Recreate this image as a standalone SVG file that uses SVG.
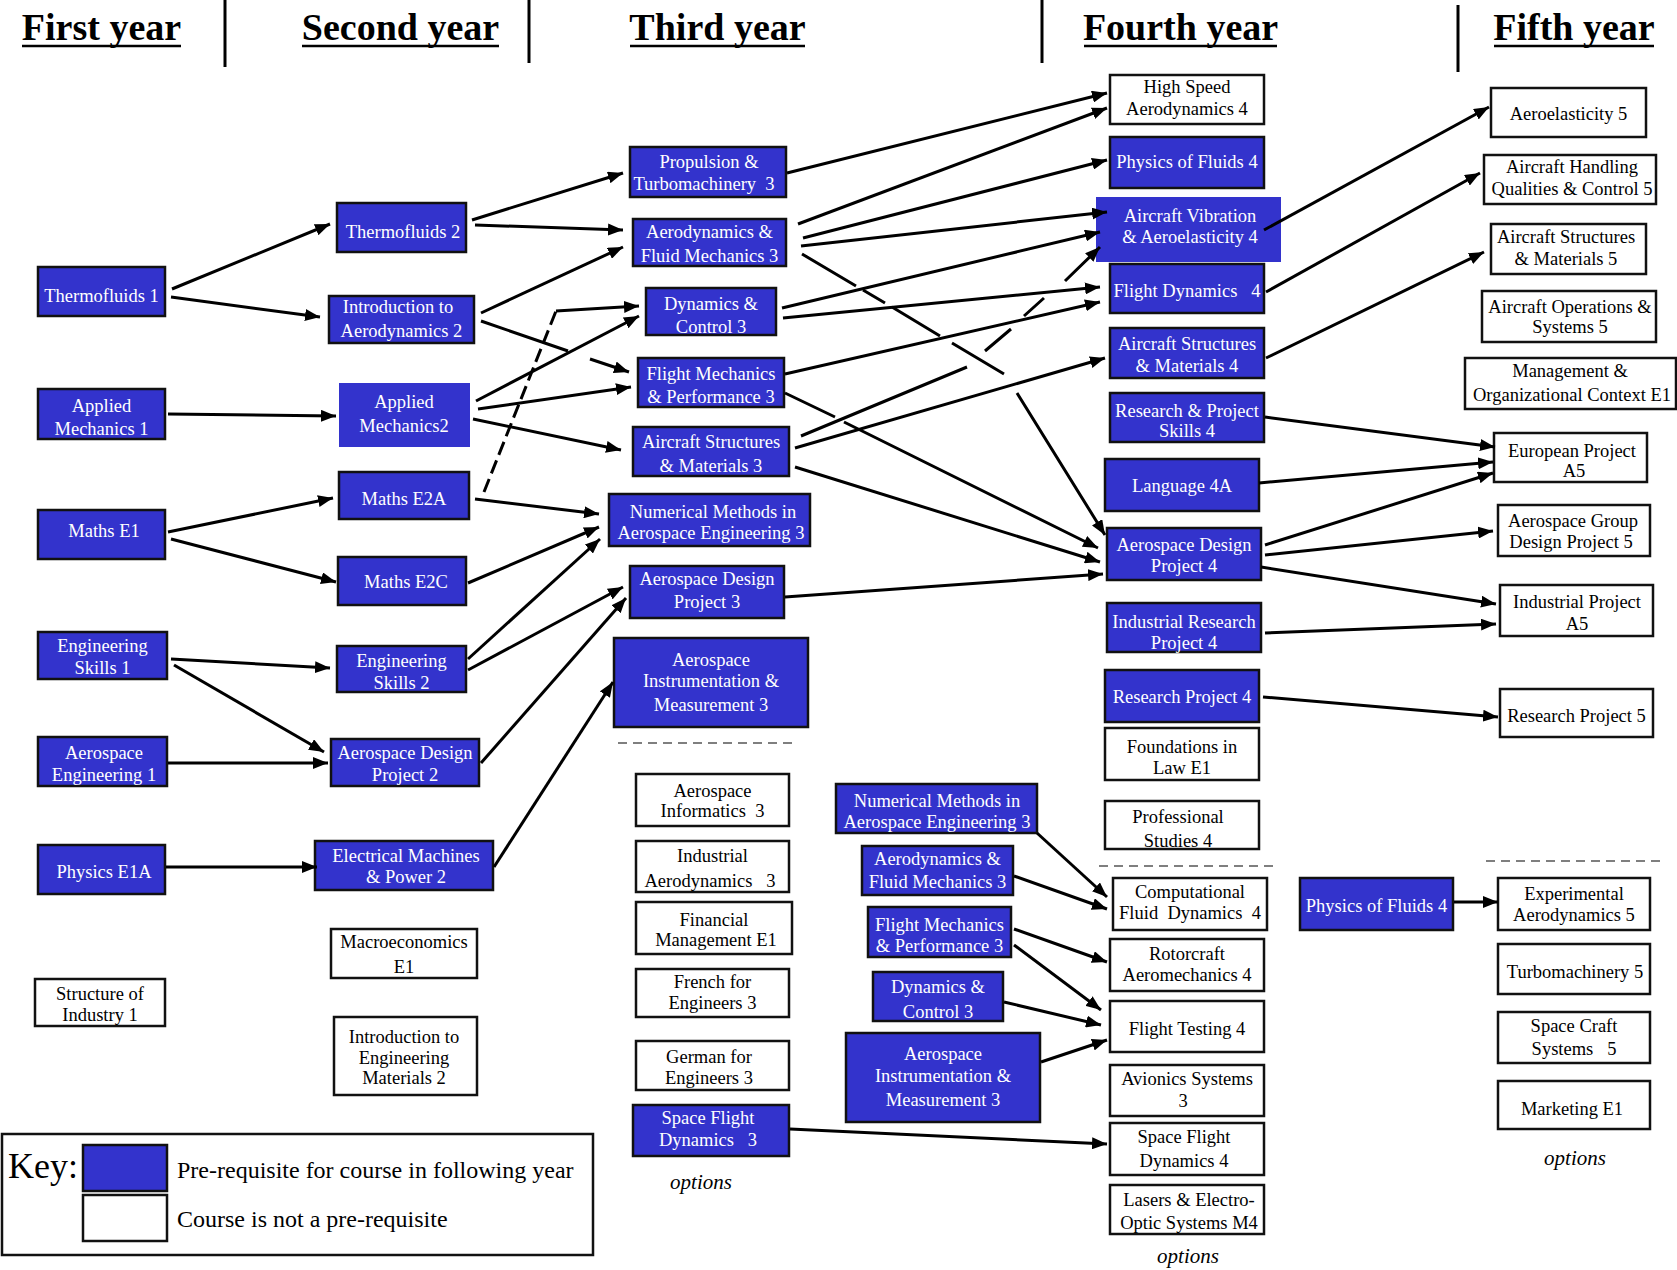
<svg xmlns="http://www.w3.org/2000/svg" width="1677" height="1270" viewBox="0 0 1677 1270">
<style>
text{font-family:"Liberation Serif","Times New Roman",serif;font-size:18.5px;text-anchor:middle;fill:#000}
.b rect{fill:#3333cc;stroke:#111;stroke-width:2.5}
.n rect{fill:#3333cc;stroke:none}
.w rect{fill:#fff;stroke:#111;stroke-width:2.5}
.b text,.n text{fill:#fff}
.hd{font-size:38px;font-weight:bold}
.ul{stroke:#000;stroke-width:2.5}
.dv{stroke:#000;stroke-width:3}
.sep{stroke:#555;stroke-width:1.5;stroke-dasharray:9 6;fill:none}
.opt{font-style:italic;font-size:21px}
#conn path{fill:none;stroke:#000;stroke-width:3;marker-end:url(#ah)}
#conn path.nd{marker-end:none;stroke-dasharray:14 6}
</style>
<defs>
<marker id="ah" markerWidth="15" markerHeight="12" refX="15" refY="6" orient="auto" markerUnits="userSpaceOnUse"><path d="M0,0 L15,6 L0,12 z" fill="#000"/></marker>
</defs>
<rect width="1677" height="1270" fill="#fff"/>

<g id="headers">
<text class="hd" x="101.5" y="40">First year</text><line class="ul" x1="22" y1="46" x2="181" y2="46"/>
<text class="hd" x="400.5" y="40">Second year</text><line class="ul" x1="302" y1="46" x2="499" y2="46"/>
<text class="hd" x="717.5" y="40">Third year</text><line class="ul" x1="630" y1="46" x2="805" y2="46"/>
<text class="hd" x="1180.5" y="40">Fourth year</text><line class="ul" x1="1084" y1="46" x2="1277" y2="46"/>
<text class="hd" x="1574" y="40">Fifth year</text><line class="ul" x1="1494" y1="46" x2="1654" y2="46"/>
<line class="dv" x1="225" y1="0" x2="225" y2="67"/>
<line class="dv" x1="529" y1="0" x2="529" y2="63"/>
<line class="dv" x1="1042" y1="0" x2="1042" y2="63"/>
<line class="dv" x1="1458" y1="5" x2="1458" y2="72"/>
<line class="sep" x1="618" y1="743" x2="797" y2="743"/>
<line class="sep" x1="1099" y1="866" x2="1276" y2="866"/>
<line class="sep" x1="1486" y1="861" x2="1662" y2="861"/>
<text class="opt" x="701" y="1189">options</text>
<text class="opt" x="1188" y="1263">options</text>
<text class="opt" x="1575" y="1165">options</text>
</g>

<g id="tf1" class="b"><rect x="38" y="267" width="127" height="49"/><text x="101.5" y="302">Thermofluids 1</text></g>
<g id="am1" class="b"><rect x="38" y="389" width="127" height="50"/><text x="101.5" y="412">Applied</text><text x="101.5" y="435">Mechanics 1</text></g>
<g id="me1" class="b"><rect x="38" y="510" width="127" height="49"/><text x="104" y="537">Maths E1</text></g>
<g id="es1" class="b"><rect x="38" y="632" width="129" height="47"/><text x="102.5" y="652">Engineering</text><text x="102.5" y="674">Skills 1</text></g>
<g id="ae1" class="b"><rect x="38" y="737" width="129" height="49"/><text x="104" y="759">Aerospace</text><text x="104" y="781">Engineering 1</text></g>
<g id="pe1a" class="b"><rect x="38" y="845" width="127" height="49"/><text x="104" y="878">Physics E1A</text></g>
<g id="soi" class="w"><rect x="35" y="979" width="130" height="47"/><text x="100" y="1000">Structure of</text><text x="100" y="1021">Industry 1</text></g>

<g id="tf2" class="b"><rect x="337" y="203" width="129" height="49"/><text x="403" y="238">Thermofluids 2</text></g>
<g id="ia2" class="b"><rect x="329" y="296" width="145" height="47"/><text x="398" y="313">Introduction to</text><text x="401.5" y="337">Aerodynamics 2</text></g>
<g id="am2" class="n"><rect x="339" y="383" width="131" height="64"/><text x="404" y="408">Applied</text><text x="404" y="432">Mechanics2</text></g>
<g id="e2a" class="b"><rect x="339" y="472" width="130" height="47"/><text x="404" y="505">Maths E2A</text></g>
<g id="e2c" class="b"><rect x="338" y="557" width="128" height="48"/><text x="406" y="588">Maths E2C</text></g>
<g id="es2" class="b"><rect x="337" y="646" width="129" height="46"/><text x="401.5" y="667">Engineering</text><text x="401.5" y="689">Skills 2</text></g>
<g id="adp2" class="b"><rect x="331" y="739" width="148" height="47"/><text x="405" y="759">Aerospace Design</text><text x="405" y="781">Project 2</text></g>
<g id="em2" class="b"><rect x="315" y="841" width="178" height="49"/><text x="406" y="862">Electrical Machines</text><text x="406" y="883">&amp; Power 2</text></g>
<g id="mac" class="w"><rect x="331" y="929" width="146" height="49"/><text x="404" y="948">Macroeconomics</text><text x="404" y="973">E1</text></g>
<g id="iem2" class="w"><rect x="334" y="1017" width="143" height="78"/><text x="404" y="1043">Introduction to</text><text x="404" y="1064">Engineering</text><text x="404" y="1084">Materials 2</text></g>

<g id="pt3" class="b"><rect x="630" y="147" width="156" height="50"/><text x="709" y="168">Propulsion &amp;</text><text x="704" y="190">Turbomachinery&#160; 3</text></g>
<g id="afm3" class="b"><rect x="633" y="219" width="153" height="47"/><text x="709.5" y="238">Aerodynamics &amp;</text><text x="709.5" y="262">Fluid Mechanics 3</text></g>
<g id="dc3" class="b"><rect x="646" y="288" width="130" height="47"/><text x="711" y="310">Dynamics &amp;</text><text x="711" y="333">Control 3</text></g>
<g id="fmp3" class="b"><rect x="638" y="358" width="146" height="49"/><text x="711" y="380">Flight Mechanics</text><text x="711" y="403">&amp; Performance 3</text></g>
<g id="asm3" class="b"><rect x="633" y="427" width="156" height="49"/><text x="711" y="448">Aircraft Structures</text><text x="711" y="472">&amp; Materials 3</text></g>
<g id="nm3" class="b"><rect x="609" y="494" width="201" height="52"/><text x="713" y="518">Numerical Methods in</text><text x="711" y="539">Aerospace Engineering 3</text></g>
<g id="adp3" class="b"><rect x="630" y="566" width="154" height="52"/><text x="707" y="585">Aerospace Design</text><text x="707" y="608">Project 3</text></g>
<g id="aim3" class="b"><rect x="614" y="638" width="194" height="89"/><text x="711" y="666">Aerospace</text><text x="711" y="687">Instrumentation &amp;</text><text x="711" y="711">Measurement 3</text></g>
<g id="ai3" class="w"><rect x="636" y="774" width="153" height="52"/><text x="712.5" y="797">Aerospace</text><text x="712.5" y="817">Informatics&#160; 3</text></g>
<g id="ia3" class="w"><rect x="636" y="841" width="153" height="51"/><text x="712.5" y="862">Industrial</text><text x="710" y="887">Aerodynamics&#160;&#160; 3</text></g>
<g id="fm" class="w"><rect x="636" y="902" width="156" height="52"/><text x="714" y="926">Financial</text><text x="716" y="946">Management E1</text></g>
<g id="fr3" class="w"><rect x="636" y="969" width="153" height="48"/><text x="712.5" y="988">French for</text><text x="712.5" y="1009">Engineers 3</text></g>
<g id="ge3" class="w"><rect x="636" y="1041" width="153" height="49"/><text x="709" y="1063">German for</text><text x="709" y="1084">Engineers 3</text></g>
<g id="sfd3" class="b"><rect x="633" y="1105" width="156" height="51"/><text x="708" y="1124">Space Flight</text><text x="708" y="1146">Dynamics&#160;&#160; 3</text></g>

<g id="nm3b" class="b"><rect x="836" y="784" width="201" height="49"/><text x="937" y="807">Numerical Methods in</text><text x="937" y="828">Aerospace Engineering 3</text></g>
<g id="afm3b" class="b"><rect x="862" y="846" width="151" height="49"/><text x="937.5" y="865">Aerodynamics &amp;</text><text x="937.5" y="888">Fluid Mechanics 3</text></g>
<g id="fmp3b" class="b"><rect x="868" y="907" width="143" height="50"/><text x="939.5" y="931">Flight Mechanics</text><text x="939.5" y="952">&amp; Performance 3</text></g>
<g id="dc3b" class="b"><rect x="873" y="972" width="130" height="49"/><text x="938" y="993">Dynamics &amp;</text><text x="938" y="1018">Control 3</text></g>
<g id="aim3b" class="b"><rect x="846" y="1033" width="194" height="89"/><text x="943" y="1060">Aerospace</text><text x="943" y="1082">Instrumentation &amp;</text><text x="943" y="1106">Measurement 3</text></g>

<g id="hsa4" class="w"><rect x="1110" y="75" width="154" height="49"/><text x="1187" y="93">High Speed</text><text x="1187" y="115">Aerodynamics 4</text></g>
<g id="pof4" class="b"><rect x="1110" y="137" width="154" height="51"/><text x="1187" y="168">Physics of Fluids 4</text></g>
<g id="ava4" class="n"><rect x="1096" y="197" width="185" height="65"/><text x="1190" y="222">Aircraft Vibration</text><text x="1190" y="243">&amp; Aeroelasticity 4</text></g>
<g id="fd4" class="b"><rect x="1110" y="264" width="154" height="49"/><text x="1187" y="297">Flight Dynamics&#160;&#160; 4</text></g>
<g id="asm4" class="b"><rect x="1110" y="328" width="154" height="50"/><text x="1187" y="350">Aircraft Structures</text><text x="1187" y="372">&amp; Materials 4</text></g>
<g id="rps4" class="b"><rect x="1110" y="393" width="154" height="49"/><text x="1187" y="417">Research &amp; Project</text><text x="1187" y="437">Skills 4</text></g>
<g id="lang4a" class="b"><rect x="1105" y="459" width="154" height="52"/><text x="1182" y="492">Language 4A</text></g>
<g id="adp4" class="b"><rect x="1107" y="528" width="154" height="52"/><text x="1184" y="551">Aerospace Design</text><text x="1184" y="572">Project 4</text></g>
<g id="irp4" class="b"><rect x="1107" y="603" width="154" height="49"/><text x="1184" y="628">Industrial Research</text><text x="1184" y="649">Project 4</text></g>
<g id="rp4" class="b"><rect x="1105" y="670" width="154" height="52"/><text x="1182" y="703">Research Project 4</text></g>
<g id="fil" class="w"><rect x="1105" y="728" width="154" height="52"/><text x="1182" y="753">Foundations in</text><text x="1182" y="774">Law E1</text></g>
<g id="ps4" class="w"><rect x="1105" y="801" width="154" height="48"/><text x="1178" y="823">Professional</text><text x="1178" y="847">Studies 4</text></g>
<g id="cfd4" class="w"><rect x="1113" y="878" width="154" height="52"/><text x="1190" y="898">Computational</text><text x="1190" y="919">Fluid&#160; Dynamics&#160; 4</text></g>
<g id="ra4" class="w"><rect x="1110" y="939" width="154" height="52"/><text x="1187" y="960">Rotorcraft</text><text x="1187" y="981">Aeromechanics 4</text></g>
<g id="ft4" class="w"><rect x="1110" y="1001" width="154" height="51"/><text x="1187" y="1035">Flight Testing 4</text></g>
<g id="av3" class="w"><rect x="1110" y="1065" width="154" height="51"/><text x="1187" y="1085">Avionics Systems</text><text x="1183" y="1107">3</text></g>
<g id="sfd4" class="w"><rect x="1110" y="1123" width="154" height="52"/><text x="1184" y="1143">Space Flight</text><text x="1184" y="1167">Dynamics 4</text></g>
<g id="leo" class="w"><rect x="1110" y="1185" width="154" height="49"/><text x="1189" y="1206">Lasers &amp; Electro-</text><text x="1189" y="1229">Optic Systems M4</text></g>

<g id="ae5" class="w"><rect x="1491" y="88" width="155" height="49"/><text x="1568.5" y="120">Aeroelasticity 5</text></g>
<g id="ahq5" class="w"><rect x="1484" y="155" width="172" height="49"/><text x="1572" y="173">Aircraft Handling</text><text x="1572" y="195">Qualities &amp; Control 5</text></g>
<g id="asm5" class="w"><rect x="1491" y="224" width="155" height="50"/><text x="1566" y="243">Aircraft Structures</text><text x="1566" y="265">&amp; Materials 5</text></g>
<g id="aos5" class="w"><rect x="1482" y="291" width="174" height="51"/><text x="1570" y="313">Aircraft Operations &amp;</text><text x="1570" y="333">Systems 5</text></g>
<g id="moc" class="w"><rect x="1465" y="358" width="211" height="51"/><text x="1570" y="377">Management &amp;</text><text x="1572" y="401">Organizational Context E1</text></g>
<g id="ep5" class="w"><rect x="1494" y="433" width="153" height="49"/><text x="1572" y="457">European Project</text><text x="1574" y="477">A5</text></g>
<g id="agdp5" class="w"><rect x="1498" y="505" width="152" height="51"/><text x="1573" y="527">Aerospace Group</text><text x="1571" y="548">Design Project 5</text></g>
<g id="ipa5" class="w"><rect x="1500" y="585" width="153" height="51"/><text x="1577" y="608">Industrial Project</text><text x="1577" y="630">A5</text></g>
<g id="rp5" class="w"><rect x="1500" y="689" width="153" height="48"/><text x="1576.5" y="722">Research Project 5</text></g>
<g id="pof4b" class="b"><rect x="1300" y="878" width="153" height="52"/><text x="1376.5" y="912">Physics of Fluids 4</text></g>
<g id="ea5" class="w"><rect x="1498" y="878" width="152" height="52"/><text x="1574" y="900">Experimental</text><text x="1574" y="921">Aerodynamics 5</text></g>
<g id="tm5" class="w"><rect x="1498" y="944" width="152" height="50"/><text x="1575" y="978">Turbomachinery 5</text></g>
<g id="scs5" class="w"><rect x="1498" y="1012" width="152" height="51"/><text x="1574" y="1032">Space Craft</text><text x="1574" y="1055">Systems&#160;&#160; 5</text></g>
<g id="mk" class="w"><rect x="1498" y="1081" width="152" height="48"/><text x="1572" y="1115">Marketing E1</text></g>

<g id="key">
<rect x="2" y="1134" width="591" height="121" fill="#fff" stroke="#111" stroke-width="2.5"/>
<text x="8" y="1178" style="font-size:36px;text-anchor:start">Key:</text>
<rect x="83" y="1145" width="84" height="46" fill="#3333cc" stroke="#111" stroke-width="2.5"/>
<rect x="83" y="1195" width="84" height="46" fill="#fff" stroke="#111" stroke-width="2.5"/>
<text x="177" y="1178" style="font-size:24px;text-anchor:start">Pre-requisite for course in following year</text>
<text x="177" y="1227" style="font-size:24px;text-anchor:start">Course is not a pre-requisite</text>
</g>

<g id="conn">
<path d="M172,289 L330,224"/>
<path d="M171,297 L320,317"/>
<path d="M168,414 L336,416"/>
<path d="M168,532 L333,498"/>
<path d="M171,539 L336,582"/>
<path d="M171,659 L330,668"/>
<path d="M174,665 L324,752"/>
<path d="M168,763 L328,763"/>
<path d="M166,867 L317,867"/>
<path d="M472,220 L623,173"/>
<path d="M475,225 L623,230"/>
<path d="M481,313 L623,247"/>
<path d="M481,321 L568,351 M590,359 L629,372"/>
<path d="M476,401 L639,316"/>
<path d="M478,409 L631,387"/>
<path d="M473,419 L621,450"/>
<path d="M475,499 L599,514"/>
<path class="nd" d="M484,492 L556,311"/>
<path d="M556,311 L639,306"/>
<path d="M468,583 L599,527"/>
<path d="M468,659 L600,539"/>
<path d="M468,670 L623,587"/>
<path d="M481,763 L626,598"/>
<path d="M494,867 L613,682"/>
<path d="M787,173 L1107,93"/>
<path d="M798,224 L1107,108"/>
<path d="M803,238 L1107,160"/>
<path d="M801,246 L1107,212"/>
<path d="M802,254 L856,286 M863,290 L885,303 M892,307 L940,336 M952,343 L1004,374 M1017,393 L1105,535"/>
<path d="M782,308 L1100,232"/>
<path d="M783,318 L1100,287"/>
<path d="M785,374 L1100,302"/>
<path d="M785,393 L835,417 M844,422 L1098,548"/>
<path d="M801,436 L967,367 M985,351 L1011,329 M1024,316 L1044,298 M1065,281 L1100,247"/>
<path d="M795,448 L1105,358"/>
<path d="M795,467 L1100,562"/>
<path d="M785,597 L1103,574"/>
<path d="M1264,230 L1489,107"/>
<path d="M1266,292 L1480,173"/>
<path d="M1266,358 L1484,252"/>
<path d="M1265,417 L1495,447"/>
<path d="M1259,483 L1493,462"/>
<path d="M1265,545 L1493,473"/>
<path d="M1265,555 L1493,531"/>
<path d="M1261,567 L1496,604"/>
<path d="M1265,633 L1496,624"/>
<path d="M1263,697 L1498,717"/>
<path d="M1454,902 L1498,902"/>
<path d="M1037,833 L1107,897"/>
<path d="M1014,876 L1107,909"/>
<path d="M1014,929 L1107,962"/>
<path d="M1014,945 L1101,1010"/>
<path d="M1004,1002 L1101,1025"/>
<path d="M1041,1062 L1107,1040"/>
<path d="M790,1129 L1107,1144"/>
</g>
</svg>
